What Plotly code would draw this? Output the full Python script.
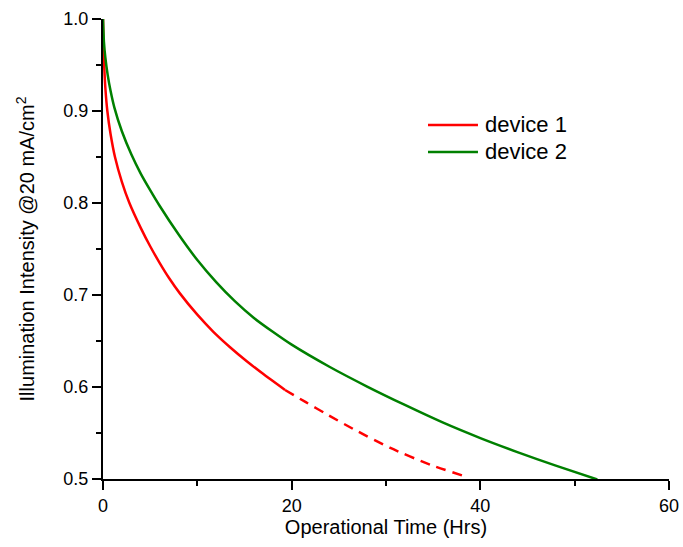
import plotly.graph_objects as go

# device 1 (measured, solid)
d1_time = [0.0, 0.05, 0.1, 0.25, 0.46, 0.8, 1.27, 2.0, 2.8, 4.0, 5.0, 6.0, 7.0, 8.17, 10.0, 11.7, 13.5, 15.24, 17.0, 19.3]
d1_int = [1.0, 0.97, 0.955, 0.925, 0.90, 0.875, 0.85, 0.823, 0.80, 0.773, 0.753, 0.735, 0.7185, 0.7015, 0.6786, 0.660, 0.643, 0.628, 0.614, 0.5967]
# device 1 (extrapolated, dashed)
d1x_time = [19.3, 21.5, 23.7, 26.5, 30.4, 34.7, 38.2]
d1x_int = [0.5967, 0.5835, 0.5705, 0.5545, 0.534, 0.5155, 0.5035]
# device 2
d2_time = [0.0, 0.1, 0.25, 0.5, 0.8, 1.2, 2.0, 3.0, 4.0, 5.0, 6.0, 8.0, 10.0, 12.0, 14.0, 16.0, 18.0, 20.0,
           24.0, 28.0, 32.0, 36.0, 40.0, 44.0, 48.0, 52.4]
d2_int = [1.0, 0.975, 0.958, 0.939, 0.922, 0.904, 0.878, 0.853, 0.832, 0.814, 0.797, 0.766, 0.738, 0.714, 0.693,
          0.675, 0.660, 0.646, 0.622, 0.6005, 0.5805, 0.5615, 0.5445, 0.529, 0.5145, 0.4995]

legend_names = ["device 1", "device 2"]

RED = "#ff0000"
GREEN = "#008000"
FONT = "Liberation Sans, Arial, sans-serif"

fig = go.Figure()
fig.add_trace(go.Scatter(x=d1_time, y=d1_int, mode="lines", name=legend_names[0],
                         line=dict(color=RED, width=2.5, shape="spline", smoothing=0.6)))
fig.add_trace(go.Scatter(x=d2_time, y=d2_int, mode="lines", name=legend_names[1],
                         line=dict(color=GREEN, width=2.5, shape="spline", smoothing=0.6)))
fig.add_trace(go.Scatter(x=d1x_time, y=d1x_int, mode="lines", showlegend=False,
                         line=dict(color=RED, width=2.5, dash="10px,7px", shape="spline", smoothing=0.6)))

axis_common = dict(
    showline=True, linecolor="black", linewidth=2,
    ticks="outside", ticklen=9, tickwidth=2, tickcolor="black",
    showgrid=False, zeroline=False, mirror=False,
    tickfont=dict(family=FONT, size=18, color="black"),
)

fig.update_xaxes(range=[0, 60], dtick=20, tick0=0,
                 minor=dict(dtick=10, ticks="outside", ticklen=5, tickwidth=2, tickcolor="black"),
                 title=dict(text="Operational Time (Hrs)", font=dict(family=FONT, size=20, color="black"), standoff=0),
                 **axis_common)
fig.update_yaxes(range=[0.5, 1.0], dtick=0.1, tick0=0.5, tickformat=".1f",
                 minor=dict(dtick=0.05, ticks="outside", ticklen=5, tickwidth=2, tickcolor="black"),
                 title=dict(text="Illumination Intensity @20 mA/cm<sup>2</sup>", font=dict(family=FONT, size=20, color="black"), standoff=23),
                 **axis_common)

# legend drawn in the reference style (long line samples)
legend_colors = [RED, GREEN]
legend_y = [0.7696, 0.7109]
for name, col, ly in zip(legend_names, legend_colors, legend_y):
    fig.add_shape(type="line", xref="paper", yref="paper", x0=0.5742, x1=0.6625, y0=ly, y1=ly,
                  line=dict(color=col, width=2.5))
    fig.add_annotation(xref="paper", yref="paper", x=0.6714, y=ly, xanchor="left", yanchor="middle",
                       text=name, showarrow=False, font=dict(family=FONT, size=22, color="black"))

fig.update_layout(
    width=683, height=547,
    margin=dict(l=103, r=14, t=19, b=68, autoexpand=False),
    paper_bgcolor="white", plot_bgcolor="white",
    showlegend=False,
)

fig.write_html("out.html", config={"displayModeBar": False},
               post_script="document.body.style.margin='0';")
